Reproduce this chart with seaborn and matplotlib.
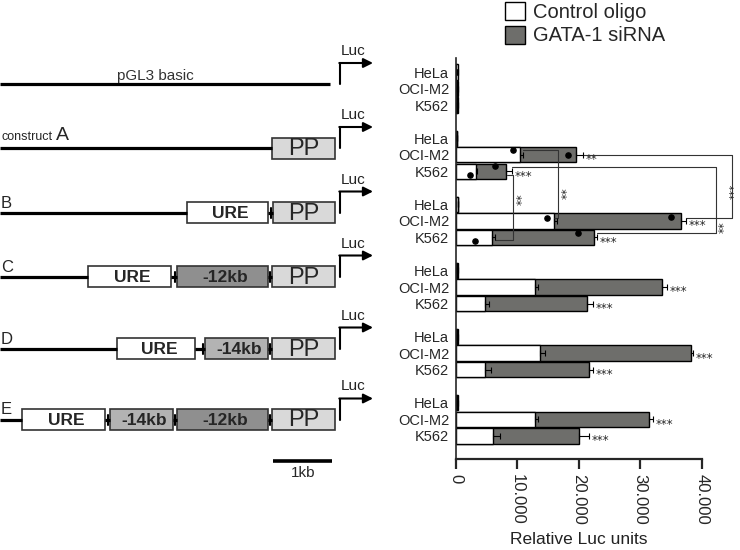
import pandas as pd
import matplotlib
matplotlib.use("Agg")
import matplotlib.pyplot as plt
import matplotlib.patches as mpatches
import seaborn as sns
import numpy as np

sns.set_style("white")
plt.rcParams['font.family'] = ['Liberation Sans', 'DejaVu Sans']

# ---- data (Relative Luc units) ----
constructs = ["pGL3", "A", "B", "C", "D", "E"]
cells = ["HeLa", "OCI-M2", "K562"]

control_mean = [
    [300, 150, 100],      # pGL3 basic
    [100, 10400, 3200],   # A
    [400, 16000, 5900],   # B
    [200, 12900, 4800],   # C
    [200, 13700, 4800],   # D
    [200, 12800, 6100],   # E
]
sirna_mean = [
    [200, 250, 300],
    [100, 19500, 8200],
    [300, 36700, 22500],
    [300, 33600, 21400],
    [250, 38200, 21600],
    [250, 31500, 20000],
]
control_err = [
    [0, 0, 0],
    [0, 430, 300],
    [0, 400, 430],
    [0, 500, 540],
    [0, 810, 870],
    [0, 490, 1090],
]
sirna_err = [
    [0, 0, 0],
    [0, 1200, 900],
    [0, 800, 500],
    [0, 760, 920],
    [0, 430, 760],
    [0, 650, 1630],
]
stars = [
    ["", "", ""],
    ["", "**", "***"],
    ["", "***", "***"],
    ["", "***", "***"],
    ["", "***", "***"],
    ["", "***", "***"],
]
# single replicate points shown for A and B
dot_keys = ["A|OCI-M2", "A|K562", "B|OCI-M2", "B|K562"]
dot_control = [9300, 2200, 14800, 3100]
dot_sirna = [18200, 6400, 35000, 19800]

xticks = [0, 10000, 20000, 30000, 40000]
xtick_labels = ["0", "10.000", "20.000", "30.000", "40.000"]

gray = "#6e6e6b"

# ---- long table ----
rows = []
for i, c in enumerate(constructs):
    for j, cell in enumerate(cells):
        key = c + "|" + cell
        rows.append(dict(key=key, construct=c, cell=cell, cond="Control oligo",
                         value=control_mean[i][j], err=control_err[i][j]))
        rows.append(dict(key=key, construct=c, cell=cell, cond="GATA-1 siRNA",
                         value=sirna_mean[i][j], err=sirna_err[i][j]))
df = pd.DataFrame(rows)

order = []
for i, c in enumerate(constructs):
    order += [c + "|" + cell for cell in cells]
    if i < len(constructs) - 1:
        order.append("gap%d" % i)
pos = {k: n for n, k in enumerate(order)}

fig = plt.figure(figsize=(7.4, 5.5), dpi=100)

# ---- left schematic (pixel coordinates) ----
axl = fig.add_axes([0, 0, 1, 1])
axl.set_xlim(0, 740)
axl.set_ylim(550, 0)
axl.axis("off")

box_colors = {"URE": "white", "-12kb": "#8f8f8f", "-14kb": "#b3b3b3", "PP": "#d9d9d9"}
schematic = {
    "pGL3": (84, 330, []),
    "A": (148, 272, [("PP", 272, 335)]),
    "B": (212.5, 187, [("URE", 187, 268), ("PP", 273, 335)]),
    "C": (276.5, 88, [("URE", 88, 171), ("-12kb", 177, 268), ("PP", 272, 335)]),
    "D": (348.5, 117, [("URE", 117, 195), ("-14kb", 205, 268), ("PP", 272, 335)]),
    "E": (419.5, 22, [("URE", 22, 105), ("-14kb", 110, 173), ("-12kb", 177, 268), ("PP", 272, 335)]),
}
for name, (yc, line_end, boxes) in schematic.items():
    axl.plot([0, line_end], [yc, yc], color="black", lw=2.3, solid_capstyle="butt")
    for k, (lab, x0, x1) in enumerate(boxes):
        axl.add_patch(mpatches.Rectangle((x0, yc - 10.5), x1 - x0, 21,
                                         facecolor=box_colors[lab], edgecolor="#333333", lw=1.2))
        if lab == "PP":
            axl.text((x0 + x1) / 2, yc + 1, lab, ha="center", va="center", fontsize=17)
        else:
            axl.text((x0 + x1) / 2 + 3, yc + 1, lab, ha="center", va="center",
                     fontsize=12.5, fontweight="bold")
        if k > 0:
            px1 = boxes[k - 1][2]
            axl.plot([px1, x0], [yc, yc], color="black", lw=2.3, solid_capstyle="butt")
            axl.plot([x0 - 2, x0 - 2], [yc - 5, yc + 5], color="black", lw=1.5)
    # promoter arrow
    axl.plot([340, 340], [yc, yc - 21], color="black", lw=1.5)
    axl.annotate("", xy=(373, yc - 21), xytext=(339.3, yc - 21),
                 arrowprops=dict(arrowstyle="-|>", lw=1.5, color="black",
                                 mutation_scale=14, shrinkA=0, shrinkB=0))
    axl.text(341, yc - 26, "Luc", ha="left", va="bottom", fontsize=11, color="#222222")

axl.text(155, 76, "pGL3 basic", ha="center", va="center", fontsize=11, color="#333333")
axl.text(1, 139.5, "construct", ha="left", va="baseline", fontsize=9)
axl.text(56, 139.5, "A", ha="left", va="baseline", fontsize=14)
for lab, yb in [("B", 208), ("C", 272), ("D", 344), ("E", 414)]:
    axl.text(1, yb, lab, ha="left", va="baseline", fontsize=12)
axl.plot([273, 332], [461, 461], color="black", lw=2.6, solid_capstyle="butt")
axl.text(303, 473, "1kb", ha="center", va="center", fontsize=11)

# ---- bar chart ----
ax = fig.add_axes([456 / 740, 1 - 459 / 550, (701.7 - 456) / 740, 401 / 550])
sub_s = df[df["cond"] == "GATA-1 siRNA"]
sub_c = df[df["cond"] == "Control oligo"]
sns.barplot(data=sub_s, x="value", y="key", order=order, orient="h", color=gray,
            edgecolor="black", linewidth=1, width=0.93, errorbar=None, ax=ax)
sns.barplot(data=sub_c, x="value", y="key", order=order, orient="h", color="white",
            edgecolor="black", linewidth=1, width=0.93, errorbar=None, ax=ax)
for sub in (sub_c, sub_s):
    yy = sub["key"].map(pos).values
    ax.errorbar(sub["value"].values, yy, xerr=[np.zeros(len(sub)), sub["err"].values],
                fmt="none", ecolor="black", elinewidth=0.8, capsize=2.5, capthick=0.8, zorder=5)

# replicate dots
yd = np.array([pos[k] for k in dot_keys])
ax.scatter(dot_control, yd + np.array([-0.3, 0.25, -0.15, 0.2]), s=14, color="black", zorder=6)
ax.scatter(dot_sirna, yd + np.array([0.0, -0.3, -0.25, -0.25]), s=14, color="black", zorder=6)

# significance stars next to siRNA bars
for i, c in enumerate(constructs):
    for j, cell in enumerate(cells):
        if stars[i][j]:
            k = c + "|" + cell
            ax.text(sirna_mean[i][j] + sirna_err[i][j] + 400, pos[k] + 0.3, stars[i][j],
                    ha="left", va="center", fontsize=8.5, family="DejaVu Sans")

# comparison brackets between constructs A and B
lc = dict(color="#333333", lw=0.8, clip_on=False, zorder=4)
pa, pb = pos["A|OCI-M2"], pos["B|OCI-M2"]
ka, kb = pos["A|K562"], pos["B|K562"]
ax.plot([10900, 16600, 16600, 16000], [pa - 0.3, pa - 0.3, pb - 0.2, pb - 0.2], **lc)
ax.text(17000, (pa + pb) / 2 + 0.3, "**", rotation=90, ha="left", va="center", fontsize=8.5,
        family="DejaVu Sans")
ax.plot([8300, 9350, 9350, 6350], [ka + 0.2, ka + 0.2, kb + 0.15, kb + 0.15], **lc)
ax.text(9700, (ka + kb) / 2 - 0.3, "**", rotation=90, ha="left", va="center", fontsize=8.5,
        family="DejaVu Sans")
ax.plot([20700, 45000, 45000, 37500], [pa, pa, pb - 0.2, pb - 0.2], **lc)
ax.text(45400, (pa + pb) / 2 + 0.2, "***", rotation=90, ha="center", va="center", fontsize=7.5,
        family="DejaVu Sans")
ax.plot([9100, 42300, 42300, 23000], [ka - 0.25, ka - 0.25, kb - 0.25, kb - 0.25], **lc)
ax.text(42600, kb - 0.6, "**", rotation=90, ha="left", va="center", fontsize=8.5,
        family="DejaVu Sans")

ax.set_xlim(0, 40000)
ax.set_ylim(len(order) - 1 + 1.4, -0.85)
ax.set_yticks(range(len(order)))
ax.set_yticklabels([k.split("|")[1] if "|" in k else "" for k in order], fontsize=10.5)
ax.tick_params(axis="y", length=0, pad=5)
ax.set_xticks(xticks)
ax.set_xticklabels(xtick_labels, rotation=270, fontsize=12)
ax.tick_params(axis="x", direction="out", length=7, width=1.6, pad=4, bottom=True)
for s in ["top", "right"]:
    ax.spines[s].set_visible(False)
ax.spines["left"].set_linewidth(1.2)
ax.spines["bottom"].set_linewidth(1.6)
ax.set_ylabel("")
ax.set_xlabel("Relative Luc units", fontsize=12.5, labelpad=5, color="#222222")
ax.patch.set_alpha(0)

handles = [mpatches.Patch(facecolor="white", edgecolor="black", lw=1),
           mpatches.Patch(facecolor=gray, edgecolor="black", lw=1)]
fig.legend(handles, ["Control oligo", "GATA-1 siRNA"], loc="upper left",
           bbox_to_anchor=(505 / 740, 0.997), frameon=False, fontsize=14.5,
           handlelength=1.0, handleheight=1.0, handletextpad=0.4, labelspacing=0.2,
           borderaxespad=0, borderpad=0)

fig.savefig("out.png", dpi=100)
